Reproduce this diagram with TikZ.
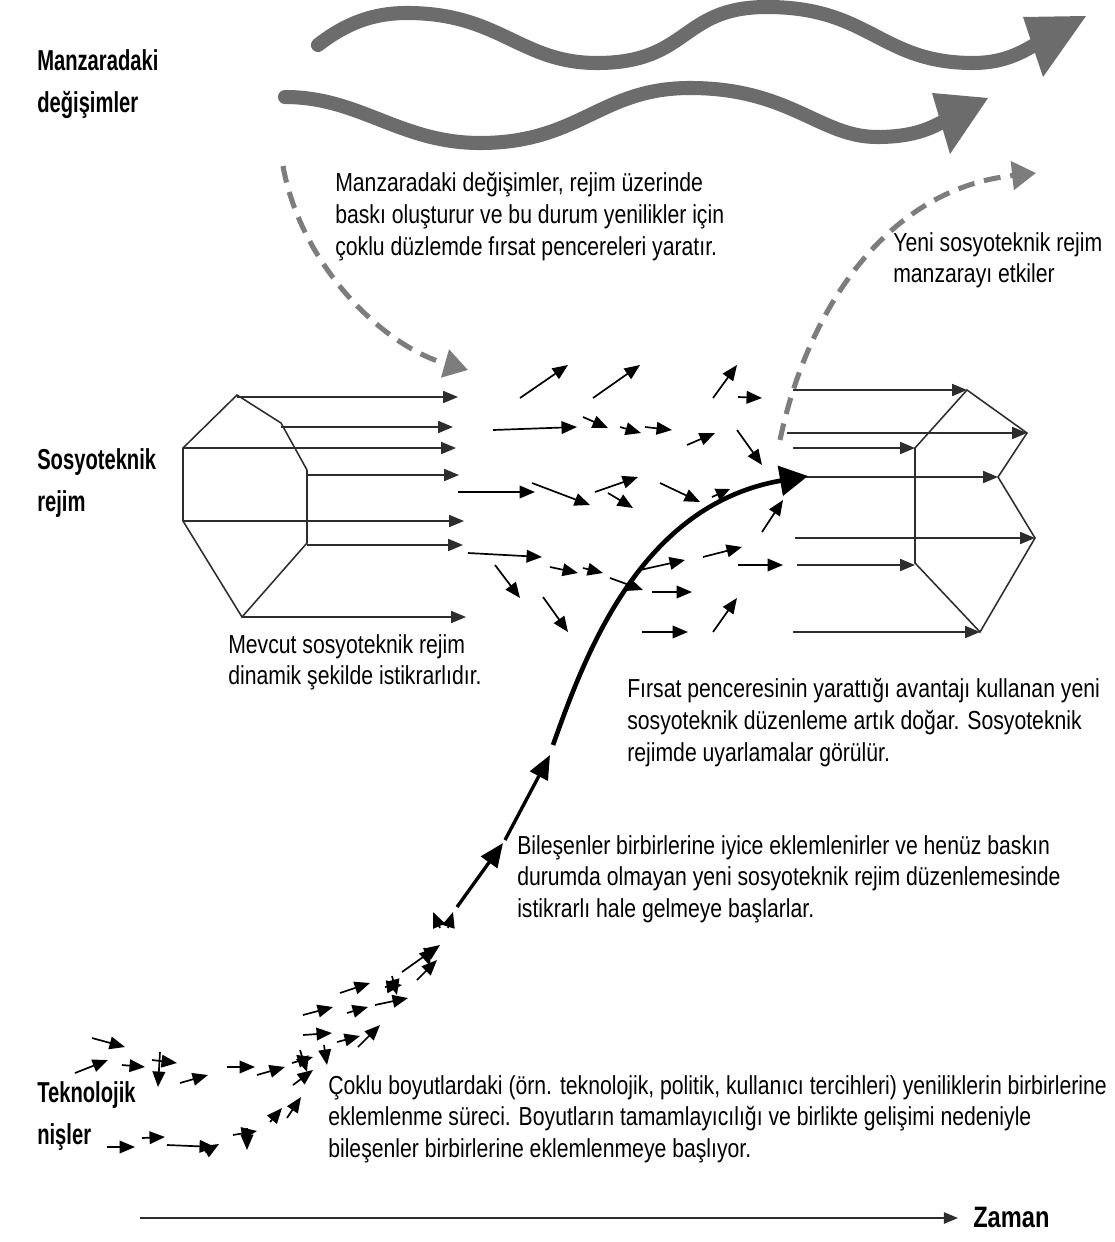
\documentclass[tikz,border=0pt]{standalone}
\usepackage{fontspec}
\setmainfont{Liberation Sans}[FakeStretch=0.815]
\newfontfamily\lblfont{Liberation Sans}[FakeStretch=0.70]
\newfontfamily\zamfont{Liberation Sans}[FakeStretch=0.80]
\usetikzlibrary{arrows.meta}
\definecolor{wavegray}{RGB}{108,108,108}
\definecolor{dashgray}{RGB}{125,125,125}
\definecolor{linegray}{RGB}{45,45,45}
\begin{document}
\begin{tikzpicture}[x=0.025cm,y=-0.025cm,
  body/.style={anchor=north west, inner sep=0pt, align=left, font=\fontsize{18.5}{22.6}\selectfont},
  lbl/.style={anchor=west, inner sep=0pt, align=left, font=\lblfont\fontsize{20.5}{29.8}\selectfont\bfseries},
  sa/.style={line width=1.2pt, -{Triangle[length=11pt,width=9pt]}},
  ba/.style={line width=2.4pt, -{Triangle[length=17pt,width=14pt]}},
  hl/.style={line width=1.1pt, draw=linegray},
  ha/.style={hl, -{Triangle[length=10.5pt,width=8.5pt]}},
  wave/.style={line width=10pt, draw=wavegray, line cap=round},
  dsh/.style={line width=3.6pt, draw=dashgray, dash pattern=on 12pt off 7pt, -{Triangle[length=17pt,width=20pt]}, color=dashgray},
]
\useasboundingbox (0,0) rectangle (1114,1242);
\fill[white] (0,0) rectangle (1114,1242);

% ---- side labels
\node[lbl] (lland) at (37,84) {Manzaradaki\\değişimler};
\node[lbl] (lreg) at (37,483) {Sosyoteknik\\rejim};
\node[lbl] (lnic) at (37,1116) {Teknolojik\\nişler};

% ---- landscape waves
\draw[wave] (318,45) .. controls (345,24) and (372,13) .. (407,13)
  .. controls (500,13) and (520,63) .. (597,63)
  .. controls (690,63) and (680,7) .. (767,7)
  .. controls (870,7) and (880,63) .. (973,63)
  .. controls (1000,63) and (1018,55) .. (1036,44);
\fill[wavegray] (1023,17) -- (1086,16) -- (1043,77) -- cycle;
\draw[wave] (285,97) .. controls (360,97) and (400,143) .. (480,143)
  .. controls (580,143) and (600,88) .. (690,88)
  .. controls (790,88) and (820,137) .. (877,137)
  .. controls (910,137) and (928,130) .. (944,121);
\fill[wavegray] (932,93) -- (988,98) -- (950,154) -- cycle;

% ---- texts
\node[body] (tland) at (335,172) {Manzaradaki değişimler, rejim üzerinde\\baskı oluşturur ve bu durum yenilikler için\\çoklu düzlemde fırsat pencereleri yaratır.};
\node[body] (tnew) at (893,232) {Yeni sosyoteknik rejim\\manzarayı etkiler};
\node[body] (told) at (228,634) {Mevcut sosyoteknik rejim\\dinamik şekilde istikrarlıdır.};
\node[body] (twin) at (627,678) {Fırsat penceresinin yarattığı avantajı kullanan yeni\\sosyoteknik düzenleme artık doğar. Sosyoteknik\\rejimde uyarlamalar görülür.};
\node[body] (tcomp) at (517,835) {Bileşenler birbirlerine iyice eklemlenirler ve henüz baskın\\durumda olmayan yeni sosyoteknik rejim düzenlemesinde\\istikrarlı hale gelmeye başlarlar.};
\node[body] (tmulti) at (328,1075) {Çoklu boyutlardaki (örn. teknolojik, politik, kullanıcı tercihleri) yeniliklerin birbirlerine\\eklemlenme süreci. Boyutların tamamlayıcılığı ve birlikte gelişimi nedeniyle\\bileşenler birbirlerine eklemlenmeye başlıyor.};

% ---- dashed arrows
\coordinate (d1s) at (283,166);
\coordinate (d1e) at (468,370);
\draw[dsh] (d1s) .. controls (300,262) and (380,345) .. (d1e);
\coordinate (d2s) at (780,440);
\coordinate (d2e) at (1036,173);
\draw[dsh] (d2s) .. controls (805,320) and (880,190) .. (d2e);

% ---- old regime (left hexagon)
\draw[hl] (237,395) -- (281,423) -- (307,470) -- (307,543) -- (242,617) -- (183,521) -- (183,448) -- cycle;
\foreach \xa/\ya/\xb in {237/397/458, 281/427/453, 183/448/456, 307/475/459, 183/521/464, 307/545/463, 242/617/466}
  \draw[ha] (\xa,\ya) -- (\xb,\ya);

% ---- scattered arrows in the window of opportunity
\foreach \xa/\ya/\xb/\yb in {520/398/568/365, 593/398/640/365, 493/430/577/427, 583/417/608/428,
  620/427/641/433, 645/427/672/430, 687/445/715/433, 713/398/737/365, 738/397/762/398, 737/430/762/465,
  458/492/535/492, 532/483/590/505, 595/492/638/477, 608/493/633/508, 660/483/700/502,
  468/553/542/557, 550/567/578/573, 583/568/603/573, 610/578/643/590, 495/565/520/598, 543/597/568/632,
  640/570/685/560, 703/557/742/547, 738/565/783/565, 652/592/692/592, 642/632/688/632, 713/632/737/598,
  762/532/783/500}
  \draw[sa] (\xa,\ya) -- (\xb,\yb);

% ---- new regime (right hexagon)
\draw[hl] (967,390) -- (1027,433) -- (998,477) -- (1035,538) -- (980,632) -- (915,563) -- (915,448) -- cycle;
\foreach \xa/\ya/\xb in {793/390/967, 787/433/1027, 793/448/915, 806/477/998, 795/538/1035, 797/565/915, 793/632/980}
  \draw[ha] (\xa,\ya) -- (\xb,\ya);

% ---- niche arrows
\foreach \xa/\ya/\xb/\yb in {92/1038/125/1047, 75/1073/108/1060, 122/1065/145/1067, 152/1060/177/1063,
  160/1052/158/1087, 180/1083/208/1075, 227/1067/255/1067, 257/1075/285/1067, 292/1063/313/1057,
  300/1050/307/1072, 324/1045/327/1065, 303/1015/333/1007, 340/993/370/983, 303/1035/332/1033,
  347/1013/368/1007, 337/1042/360/1036, 358/1047/380/1025, 375/1005/408/998, 385/987/402/985,
  392/976/397/995, 402/972/440/945, 417/980/437/960, 424/948/430/966, 440/928/433/912, 448/928/453/912,
  107/1147/135/1147, 142/1138/165/1137, 167/1145/215/1147, 205/1152/219/1144, 233/1135/257/1131,
  247/1128/247/1150, 270/1122/282/1108, 287/1118/301/1097, 293/1085/313/1070}
  \draw[sa] (\xa,\ya) -- (\xb,\yb);

% ---- the emerging trajectory
\coordinate (n1) at (457,907);
\coordinate (n2) at (503,843);
\coordinate (n3) at (505,840);
\coordinate (n4) at (550,755);
\draw[ba] (n1) -- (n2);
\draw[ba] (n3) -- (n4);
\coordinate (c0) at (553,745);
\coordinate (c1) at (808,476);
\draw[line width=3.3pt, -{Triangle[length=20pt,width=21pt]}] (c0) .. controls (585,655) and (640,505) .. (c1);
\draw[line width=1.2pt, -{Triangle[length=10pt,width=9pt]}] (712,497) -- (730,489);

% ---- time axis
\node[anchor=west, inner sep=0pt, font=\zamfont\fontsize{21}{25}\selectfont\bfseries] (zaman) at (973,1217) {Zaman};
\coordinate (t0) at (140,1218);
\draw[line width=1.2pt, draw=linegray, -{Triangle[length=10pt,width=8pt]}] (t0) -- (958,1218);
\end{tikzpicture}
\end{document}
